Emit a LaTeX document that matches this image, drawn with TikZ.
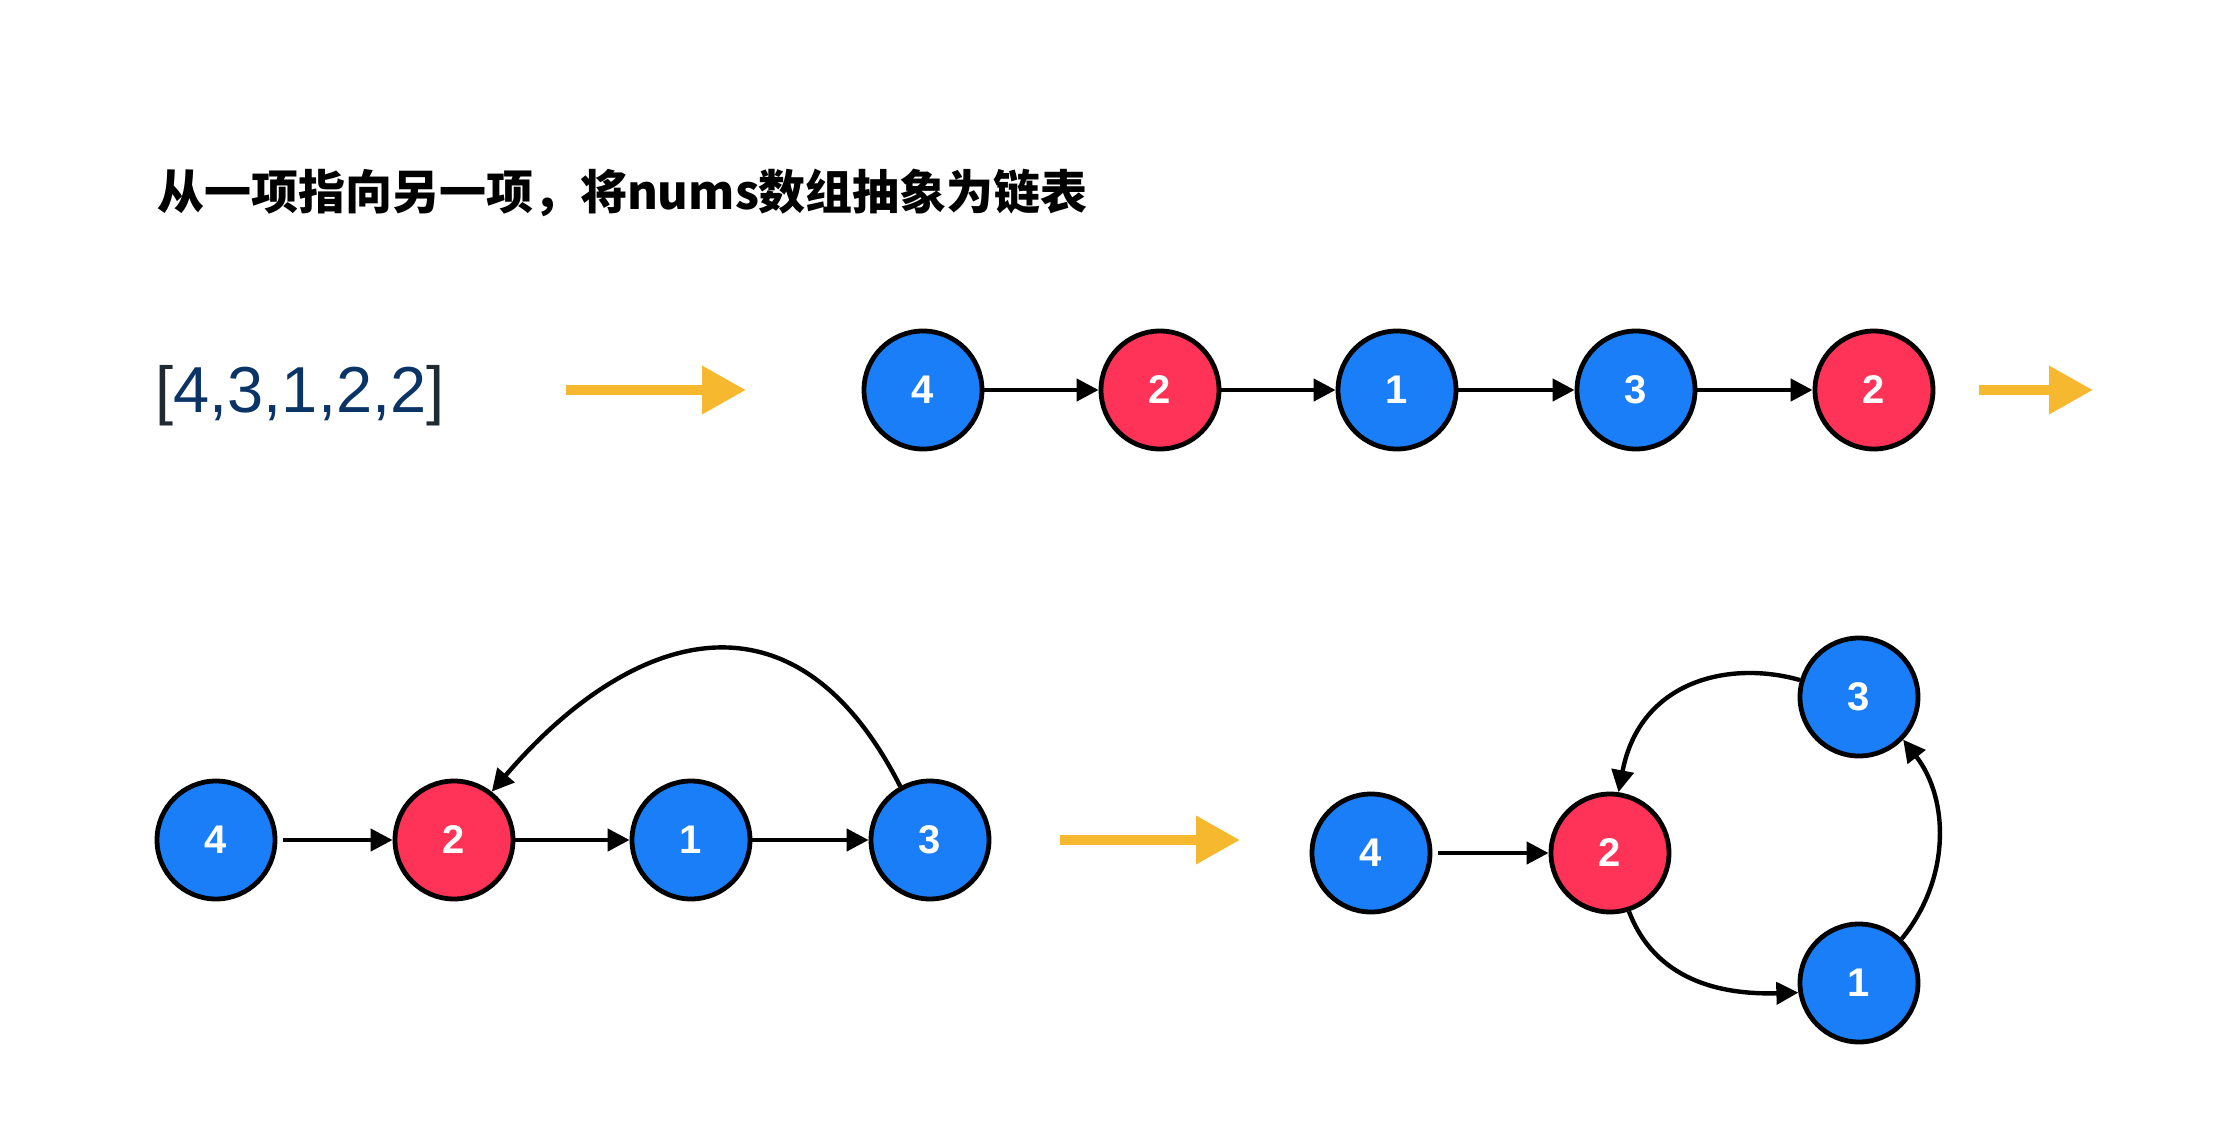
\documentclass[tikz,border=0pt]{standalone}
\usepackage{fontspec}
\setmainfont{Liberation Sans}
\newfontfamily\cjk{Noto Sans CJK SC}
\usetikzlibrary{arrows.meta}
\definecolor{nodeblue}{HTML}{1A7EF8}
\definecolor{nodered}{HTML}{FF3358}
\definecolor{arrowyellow}{HTML}{F6B82E}
\definecolor{arraytext}{HTML}{0B3466}
\definecolor{bracketgray}{HTML}{1F2A33}
\tikzset{
  listnode/.style={circle, draw=black, line width=2.4pt, minimum size=59pt, inner sep=0pt,
    text=white, font=\bfseries\fontsize{20}{20}\selectfont},
  bluenode/.style={listnode, fill=nodeblue},
  rednode/.style={listnode, fill=nodered},
  link/.style={-{Triangle[length=11pt,width=11pt]}, line width=2.2pt},
  bigarrow/.style={-{Triangle[length=22pt,width=23pt]}, line width=5pt, draw=arrowyellow},
}
\begin{document}
\begin{tikzpicture}[x=0.5pt, y=-0.5pt]
	\useasboundingbox (0,0) rectangle (2240,1130);
	\node[anchor=west, font=\cjk\bfseries\fontsize{23.5}{23.5}\selectfont] (title) at (150,193) {从一项指向另一项，将nums数组抽象为链表};
	\node[font=\fontsize{32.5}{32.5}\selectfont] (array) at (300,396) {\textcolor{bracketgray}{[}\textcolor{arraytext}{4,3,1,2,2}\textcolor{bracketgray}{]}};

	% array -> list
	\coordinate (Y1_s) at (566,390);
	\coordinate (Y1_e) at (746,390);
	\draw[bigarrow] (Y1_s) -- (Y1_e);
	\node[bluenode] (T_4) at (923,390) {4};
	\node[rednode] (T_2a) at (1160,390) {2};
	\node[bluenode] (T_1) at (1397,390) {1};
	\node[bluenode] (T_3) at (1636,390) {3};
	\node[rednode] (T_2b) at (1874,390) {2};
	\draw[link] (T_4) -- (T_2a);
	\draw[link] (T_2a) -- (T_1);
	\draw[link] (T_1) -- (T_3);
	\draw[link] (T_3) -- (T_2b);
	\coordinate (Y2_s) at (1979,390);
	\coordinate (Y2_e) at (2093,390);
	\draw[bigarrow] (Y2_s) -- (Y2_e);

	% list with the back edge
	\node[bluenode] (L_4) at (216,840) {4};
	\node[rednode] (L_2) at (454,840) {2};
	\node[bluenode] (L_1) at (691,840) {1};
	\node[bluenode] (L_3) at (930,840) {3};
	\draw[link, shorten <=3pt] (L_4) -- (L_2);
	\draw[link] (L_2) -- (L_1);
	\draw[link] (L_1) -- (L_3);
	\draw[link] (L_3.119) .. controls (790,570) and (623,638) .. (L_2.52);
	\coordinate (Y3_s) at (1060,840);
	\coordinate (Y3_e) at (1240,840);
	\draw[bigarrow] (Y3_s) -- (Y3_e);

	% the cycle
	\node[bluenode] (C_4) at (1371,853) {4};
	\node[rednode] (C_2) at (1610,853) {2};
	\node[bluenode] (C_3) at (1859,697) {3};
	\node[bluenode] (C_1) at (1859,983) {1};
	\draw[link, shorten <=3pt] (C_4) -- (C_2);
	\draw[link] (C_3.164) .. controls (1730,660) and (1640,680) .. (C_2.82);
	\draw[link] (C_2.-72) .. controls (1655,980) and (1720,995) .. (C_1.189);
	\draw[link] (C_1.46) .. controls (1950,880) and (1950,800) .. (C_3.-44);
\end{tikzpicture}
\end{document}
